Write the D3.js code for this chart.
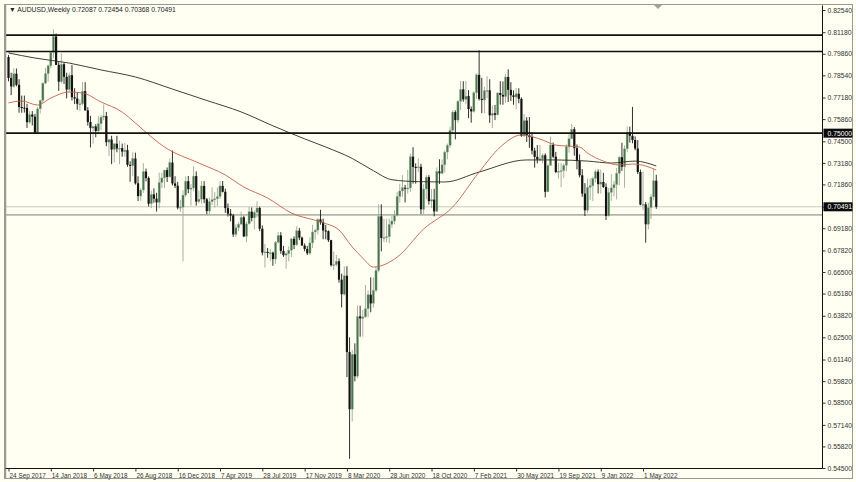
<!DOCTYPE html>
<html><head><meta charset="utf-8">
<script src="https://cdn.jsdelivr.net/npm/d3@7"></script>
<style>body{margin:0;background:#fff;}svg{display:block}</style>
</head><body>
<svg id="c" width="856" height="482"></svg>
<script>
// ---------- data ----------
const symbolTitle = "\u25BC AUDUSD,Weekly  0.72087 0.72454 0.70368 0.70491";
const dateLabels = ["24 Sep 2017","14 Jan 2018","6 May 2018","26 Aug 2018","16 Dec 2018","7 Apr 2019","28 Jul 2019","17 Nov 2019","8 Mar 2020","28 Jun 2020","18 Oct 2020","7 Feb 2021","30 May 2021","19 Sep 2021","9 Jan 2022","1 May 2022"];
const dateLabelIdx = [0,16,32,48,64,80,96,112,128,144,160,176,192,208,224,240];
const priceTicks = [0.8254,0.8118,0.7986,0.7854,0.7718,0.7586,0.7450,0.7318,0.7186,0.7050,0.6918,0.6782,0.6650,0.6518,0.6382,0.6250,0.6114,0.5982,0.5850,0.5714,0.5582,0.5450];
const levelLines = [0.81,0.80,0.75];
const supportLine = [0.70];
const bidLine = [0.70491];
const highlightedLabels = [0.75000,0.70491];

const opens = [
.7966,.7838,.7786,.7864,.7796,.7660,.7656,.7654,.7567,.7614,
.7601,.7503,.7649,.7701,.7806,.7864,.7912,.7995,.8092,.7918,
.7815,.7922,.7845,.7767,.7855,.7720,.7712,.7680,.7680,.7757,
.7640,.7568,.7531,.7541,.7513,.7558,.7598,.7605,.7445,.7461,
.7400,.7435,.7406,.7408,.7387,.7396,.7306,.7300,.7345,.7193,
.7115,.7152,.7265,.7225,.7068,.7125,.7099,.7076,.7198,.7226,
.7274,.7232,.7320,.7192,.7178,.7044,.7047,.7121,.7206,.7157,
.7164,.7237,.7081,.7096,.7177,.7095,.7023,.7081,.7093,.7098,
.7112,.7177,.7141,.7041,.7007,.6996,.6880,.6921,.6943,.6985,
.6868,.6945,.7019,.6981,.7015,.7042,.6915,.6769,.6773,.6766,
.6768,.6729,.6832,.6874,.6779,.6753,.6762,.6783,.6853,.6816,
.6903,.6860,.6812,.6791,.6765,.6828,.6895,.6906,.6972,.6955,
.6904,.6900,.6845,.6692,.6695,.6716,.6603,.6514,.6627,.6160,
.5810,.6146,.6012,.6378,.6366,.6375,.6425,.6511,.6458,.6538,
.6660,.6991,.6858,.6861,.6866,.6942,.6962,.6996,.7113,.7146,
.7166,.7162,.7164,.7356,.7293,.7288,.7294,.7034,.7158,.7231,
.7084,.7093,.7021,.7266,.7254,.7306,.7384,.7426,.7518,.7629,
.7580,.7695,.7768,.7707,.7727,.7648,.7633,.7747,.7857,.7710,
.7703,.7760,.7762,.7609,.7622,.7612,.7746,.7734,.7724,.7844,
.7765,.7732,.7721,.7741,.7710,.7484,.7577,.7487,.7476,.7393,
.7355,.7339,.7343,.7365,.7141,.7303,.7428,.7356,.7262,.7267,
.7271,.7303,.7416,.7466,.7524,.7408,.7329,.7242,.7130,.7028,
.7168,.7178,.7222,.7264,.7188,.7201,.7170,.6993,.7137,.7165,
.7185,.7254,.7353,.7294,.7404,.7506,.7484,.7458,.7406,.7262,
.7063,.7064,.6942,.7044,.7110,.72087];
const highs = [
.7978,.7870,.7897,.7896,.7830,.7730,.7730,.7680,.7635,.7635,
.7618,.7660,.7705,.7812,.7900,.7920,.8002,.8136,.8110,.7935,
.7988,.7932,.7870,.7872,.7917,.7775,.7750,.7707,.7813,.7812,
.7659,.7606,.7543,.7555,.7604,.7612,.7676,.7630,.7465,.7484,
.7440,.7484,.7454,.7436,.7440,.7429,.7328,.7383,.7381,.7236,
.7163,.7316,.7283,.7235,.7148,.7162,.7135,.7259,.7258,.7275,
.7290,.7345,.7394,.7236,.7202,.7092,.7150,.7235,.7238,.7188,
.7296,.7266,.7148,.7207,.7206,.7103,.7105,.7168,.7140,.7168,
.7206,.7207,.7160,.7069,.7035,.7006,.6942,.6954,.7020,.6994,
.6960,.7048,.7045,.7027,.7082,.7050,.6935,.6822,.6797,.6790,
.6775,.6840,.6895,.6894,.6810,.6771,.6807,.6857,.6868,.6930,
.6920,.6867,.6825,.6809,.6862,.6939,.6915,.6980,.7031,.6977,
.6938,.6905,.6847,.6775,.6754,.6733,.6640,.6685,.6685,.6250,
.6172,.6213,.6445,.6444,.6418,.6570,.6537,.6617,.6617,.6683,
.7064,.7064,.6976,.6976,.6977,.6995,.7028,.7140,.7190,.7243,
.7183,.7276,.7375,.7414,.7315,.7345,.7312,.7187,.7243,.7243,
.7158,.7159,.7290,.7340,.7339,.7395,.7436,.7540,.7640,.7640,
.7702,.7820,.7818,.7820,.7764,.7663,.7758,.7866,.8007,.7839,
.7784,.7849,.7830,.7670,.7673,.7750,.7818,.7817,.7863,.7891,
.7812,.7762,.7776,.7775,.7719,.7617,.7598,.7599,.7506,.7411,
.7427,.7428,.7376,.7376,.7310,.7478,.7443,.7385,.7318,.7316,
.7315,.7431,.7500,.7556,.7537,.7431,.7370,.7280,.7194,.7222,
.7222,.7233,.7277,.7278,.7278,.7257,.7193,.7165,.7250,.7209,
.7287,.7360,.7441,.7425,.7540,.7540,.7661,.7480,.7458,.7277,
.7266,.7078,.7074,.7126,.7283,.72454];
const lows = [
.7817,.7733,.7778,.7787,.7625,.7625,.7626,.7532,.7557,.7547,
.7501,.7500,.7620,.7685,.7800,.7815,.7898,.7958,.7917,.7759,
.7805,.7801,.7713,.7755,.7700,.7678,.7643,.7635,.7670,.7637,
.7546,.7412,.7435,.7475,.7500,.7518,.7580,.7420,.7361,.7310,
.7321,.7383,.7310,.7356,.7356,.7294,.7202,.7236,.7185,.7085,
.7086,.7134,.7205,.7051,.7041,.7074,.7020,.7040,.7164,.7165,
.7201,.7230,.7180,.7164,.7033,.7018,.6715,.7110,.7132,.7056,
.7145,.7056,.7071,.7068,.7071,.7003,.7004,.7060,.7045,.7054,
.7098,.7137,.7012,.6990,.6960,.6865,.6864,.6900,.6937,.6863,
.6832,.6940,.6960,.6911,.6985,.6900,.6752,.6677,.6737,.6717,
.6688,.6700,.6825,.6761,.6743,.6671,.6715,.6741,.6790,.6810,
.6845,.6811,.6777,.6754,.6755,.6797,.6848,.6880,.6940,.6850,
.6850,.6834,.6683,.6662,.6684,.6585,.6433,.6506,.6007,.5506,
.5735,.5980,.5999,.6254,.6254,.6371,.6372,.6403,.6432,.6526,
.6648,.6776,.6833,.6832,.6826,.6921,.6942,.6990,.7075,.7110,
.7076,.7130,.7140,.7191,.7191,.7263,.7005,.7006,.7095,.7062,
.7042,.6991,.7017,.7189,.7248,.7258,.7340,.7410,.7500,.7462,
.7563,.7642,.7692,.7677,.7592,.7564,.7626,.7710,.7700,.7622,
.7621,.7713,.7563,.7531,.7580,.7608,.7675,.7674,.7686,.7691,
.7697,.7674,.7647,.7683,.7478,.7477,.7446,.7410,.7370,.7289,
.7315,.7327,.7314,.7106,.7138,.7300,.7347,.7255,.7221,.7170,
.7226,.7266,.7381,.7463,.7362,.7278,.7229,.7110,.6993,.7010,
.7090,.7084,.7198,.7131,.7130,.7165,.6968,.6990,.7086,.7112,
.7094,.7180,.7269,.7166,.7383,.7442,.7438,.7395,.7250,.7058,
.7029,.6829,.6911,.6975,.7088,.70368];
const closes = [
.7838,.7786,.7864,.7796,.7660,.7656,.7654,.7567,.7614,.7601,
.7503,.7649,.7701,.7806,.7864,.7912,.7995,.8092,.7918,.7815,
.7922,.7845,.7767,.7855,.7720,.7712,.7680,.7680,.7757,.7640,
.7568,.7531,.7541,.7513,.7558,.7598,.7605,.7445,.7461,.7400,
.7435,.7406,.7408,.7387,.7396,.7306,.7300,.7345,.7193,.7115,
.7152,.7265,.7225,.7068,.7125,.7099,.7076,.7198,.7226,.7274,
.7232,.7320,.7192,.7178,.7044,.7047,.7121,.7206,.7157,.7164,
.7237,.7081,.7096,.7177,.7095,.7023,.7081,.7093,.7098,.7112,
.7177,.7141,.7041,.7007,.6996,.6880,.6921,.6943,.6985,.6868,
.6945,.7019,.6981,.7015,.7042,.6915,.6769,.6773,.6766,.6768,
.6729,.6832,.6874,.6779,.6753,.6762,.6783,.6853,.6816,.6903,
.6860,.6812,.6791,.6765,.6828,.6895,.6906,.6972,.6955,.6904,
.6900,.6845,.6692,.6695,.6716,.6603,.6514,.6627,.6160,.5810,
.6146,.6012,.6378,.6366,.6375,.6425,.6511,.6458,.6538,.6660,
.6991,.6858,.6861,.6866,.6942,.6962,.6996,.7113,.7146,.7166,
.7162,.7164,.7356,.7293,.7288,.7294,.7034,.7158,.7231,.7084,
.7093,.7021,.7266,.7254,.7306,.7384,.7426,.7518,.7629,.7580,
.7695,.7768,.7707,.7727,.7648,.7633,.7747,.7857,.7710,.7703,
.7760,.7762,.7609,.7622,.7612,.7746,.7734,.7724,.7844,.7765,
.7732,.7721,.7741,.7710,.7484,.7577,.7487,.7476,.7393,.7355,
.7339,.7343,.7365,.7141,.7303,.7428,.7356,.7262,.7267,.7271,
.7303,.7416,.7466,.7524,.7408,.7329,.7242,.7130,.7028,.7168,
.7178,.7222,.7264,.7188,.7201,.7170,.6993,.7137,.7165,.7185,
.7254,.7353,.7294,.7404,.7506,.7484,.7458,.7406,.7262,.7063,
.7064,.6942,.7044,.7110,.7209,.70491];

// moving averages (bar index, value)
const maFastIdx = [0,5,11,16,23,28,35,43,48,51,59,72,82,89,98,107,118,125,130,134,138,147,157,168,178,186,194,202,207,216,219,225,231,236,241,245];
const maFastVal = [.7685,.7697,.7672,.7715,.7752,.7746,.7691,.7629,.7562,.7519,.7415,.7317,.7244,.7170,.7103,.7011,.6956,.6907,.6803,.6735,.6680,.6741,.6913,.7048,.7262,.7415,.7489,.7458,.7427,.7415,.7378,.7329,.7305,.7311,.7299,.7274];
const maSlowIdx = [0,10,23,35,48,62,75,88,100,112,120,130,138,145,155,165,178,196,207,219,228,237,245];
const maSlowVal = [.7991,.7960,.7929,.7887,.7844,.7770,.7700,.7630,.7545,.7465,.7415,.7345,.7270,.7215,.7203,.7201,.7262,.7336,.7336,.7329,.7317,.7329,.7299];

// ---------- drawing ----------
const svg = d3.select("#c");
const BG = "#fffff2";
const FONT = "'Liberation Sans', Arial, sans-serif";
const plot = {l:5.5, r:822.5, t:5.5, b:468.5};

svg.append("rect").attr("width",856).attr("height",482).attr("fill",BG);

const x = d3.scaleLinear().domain([0, closes.length-1]).range([8.5, 8.5 + (closes.length-1)*2.644]);
const y = d3.scaleLinear().domain([0.5450, 0.8254]).range([468, 10]);

svg.append("clipPath").attr("id","clip").append("rect")
  .attr("x",plot.l).attr("y",plot.t).attr("width",plot.r-plot.l).attr("height",plot.b-plot.t);
const g = svg.append("g").attr("clip-path","url(#clip)");

// gray lines
g.selectAll("line.sup").data(supportLine).join("line").attr("class","sup")
  .attr("x1",plot.l).attr("x2",plot.r).attr("y1",d=>y(d)).attr("y2",d=>y(d))
  .attr("stroke","#b4b4ac").attr("stroke-width",1.6);
g.selectAll("line.bid").data(bidLine).join("line").attr("class","bid")
  .attr("x1",plot.l).attr("x2",plot.r).attr("y1",d=>y(d)).attr("y2",d=>y(d))
  .attr("stroke","#c8c8c0").attr("stroke-width",1);

// candles
const idx = d3.range(closes.length);
const bull = i => closes[i] >= opens[i];
g.selectAll("line.wick").data(idx).join("line").attr("class","wick")
  .attr("x1",i=>x(i)).attr("x2",i=>x(i))
  .attr("y1",i=>y(highs[i])).attr("y2",i=>y(lows[i]))
  .attr("stroke",i=>bull(i)?"#9ea89c":"#1a1a1a").attr("stroke-width",0.9);
g.selectAll("rect.body").data(idx).join("rect").attr("class","body")
  .attr("x",i=>x(i)-1.1).attr("width",2.2)
  .attr("y",i=>y(Math.max(opens[i],closes[i])))
  .attr("height",i=>Math.max(1,Math.abs(y(opens[i])-y(closes[i]))))
  .attr("fill",i=>bull(i)?"#46764a":"#141414")
  .attr("stroke",i=>bull(i)?"#a9b6a6":"none").attr("stroke-width",0.4);

// moving averages
const line = d3.line().curve(d3.curveMonotoneX);
g.append("path").attr("d", line(maSlowIdx.map((d,k)=>[x(d), y(maSlowVal[k])])))
  .attr("fill","none").attr("stroke","#2a2a22").attr("stroke-width",0.9);
g.append("path").attr("d", line(maFastIdx.map((d,k)=>[x(d), y(maFastVal[k])])))
  .attr("fill","none").attr("stroke","#c0604c").attr("stroke-width",0.9);

// horizontal levels
g.selectAll("line.lvl").data(levelLines).join("line").attr("class","lvl")
  .attr("x1",plot.l).attr("x2",plot.r).attr("y1",d=>y(d)).attr("y2",d=>y(d))
  .attr("stroke","#111").attr("stroke-width",1.6);

// frame
svg.append("rect").attr("x",4.5).attr("y",4.5).attr("width",848).attr("height",474)
  .attr("fill","none").attr("stroke","#9a9a94").attr("stroke-width",1);
svg.append("line").attr("x1",5.5).attr("x2",5.5).attr("y1",4.5).attr("y2",478.5).attr("stroke","#9a9a94").attr("stroke-width",1.5);

// right price axis
const yAxis = d3.axisRight(y).tickValues(priceTicks).tickSize(3).tickSizeOuter(0)
  .tickFormat(d=>d.toFixed(5));
const ya = svg.append("g").attr("transform",`translate(${plot.r},0)`).call(yAxis);
ya.select(".domain").attr("stroke","#111").attr("d",`M0,${plot.t}V${plot.b}`);
ya.selectAll(".tick line").attr("stroke","#333");
ya.selectAll(".tick text").attr("x",5).attr("font-family",FONT).attr("font-size",6.8).attr("fill","#333");

// bottom time axis
const xAxis = d3.axisBottom(x).tickValues(dateLabelIdx).tickSize(3).tickSizeOuter(0)
  .tickFormat((d,i)=>dateLabels[i]);
const xa = svg.append("g").attr("transform",`translate(0,${plot.b})`).call(xAxis);
xa.select(".domain").attr("stroke","#111").attr("d",`M${plot.l},0H${plot.r}`);
xa.selectAll(".tick line").attr("stroke","#333");
xa.selectAll(".tick text").attr("text-anchor","start").attr("x",0.5).attr("y",5)
  .attr("font-family",FONT).attr("font-size",6.4).attr("fill","#333");

// highlighted price labels
const hl = svg.append("g").selectAll("g").data(highlightedLabels).join("g")
  .attr("transform",d=>`translate(${plot.r+1},${y(d)})`);
hl.append("rect").attr("x",0).attr("y",-4.5).attr("width",29).attr("height",9).attr("fill","#0a0a0a");
hl.append("text").attr("x",4).attr("y",2.5).attr("font-family",FONT).attr("font-size",6.8)
  .attr("fill","#fff").text(d=>d.toFixed(5));

// title
svg.append("text").attr("x",9).attr("y",12).attr("font-family",FONT).attr("font-size",6.8)
  .attr("fill","#222").text(symbolTitle);

// chart shift marker
svg.append("path").attr("d","M654,5 L662,5 L658,9 Z").attr("fill","#a0a0a0");
</script>
</body></html>
